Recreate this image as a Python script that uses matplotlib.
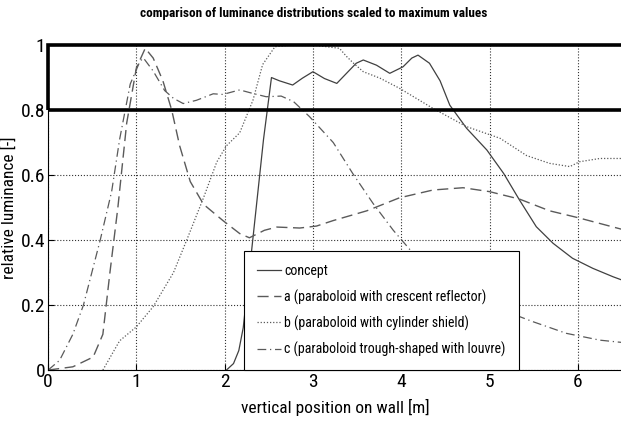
import matplotlib
matplotlib.use("Agg")
import matplotlib.pyplot as plt
from matplotlib.patches import Rectangle

# condensed sans, close to the Arial Narrow look of the reference
plt.rcParams['font.family'] = ['Roboto Condensed', 'Liberation Sans', 'DejaVu Sans']

# --- data ---
concept_x = [2.02, 2.10, 2.16, 2.21, 2.31, 2.44, 2.53, 2.62, 2.77, 2.88, 3.00, 3.13, 3.27,
             3.38, 3.49, 3.57, 3.72, 3.87, 4.02, 4.12, 4.19, 4.32, 4.44, 4.55, 4.74, 4.97,
             5.16, 5.34, 5.53, 5.72, 5.94, 6.17, 6.40, 6.50]
concept_y = [0.0, 0.02, 0.06, 0.13, 0.38, 0.71, 0.90, 0.89, 0.877, 0.898, 0.918, 0.897, 0.882,
             0.913, 0.944, 0.954, 0.938, 0.913, 0.933, 0.96, 0.969, 0.944, 0.89, 0.815, 0.744,
             0.677, 0.605, 0.523, 0.441, 0.39, 0.344, 0.313, 0.287, 0.277]

a_x = [0.0, 0.28, 0.51, 0.62, 0.70, 0.79, 0.89, 1.00, 1.10, 1.19, 1.30, 1.40, 1.49, 1.61,
       1.76, 1.98, 2.17, 2.28, 2.45, 2.59, 2.85, 3.04, 3.23, 3.61, 3.98, 4.36, 4.70, 5.00,
       5.34, 5.68, 6.00, 6.50]
a_y = [0.0, 0.01, 0.04, 0.11, 0.30, 0.50, 0.76, 0.93, 0.99, 0.96, 0.89, 0.80, 0.69, 0.58,
       0.51, 0.46, 0.42, 0.407, 0.43, 0.44, 0.437, 0.443, 0.46, 0.49, 0.53, 0.554, 0.561,
       0.549, 0.526, 0.49, 0.469, 0.433]

b_x = [0.62, 0.81, 1.00, 1.19, 1.42, 1.57, 1.76, 1.91, 2.02, 2.17, 2.32, 2.43, 2.57, 2.75,
       3.00, 3.15, 3.30, 3.38, 3.46, 3.57, 3.76, 3.98, 4.17, 4.36, 4.74, 5.12, 5.42, 5.68,
       5.91, 6.02, 6.25, 6.50]
b_y = [0.0, 0.09, 0.133, 0.195, 0.30, 0.40, 0.53, 0.64, 0.69, 0.73, 0.83, 0.94, 0.995, 1.0,
       1.0, 0.995, 0.99, 0.965, 0.944, 0.918, 0.898, 0.867, 0.836, 0.805, 0.749, 0.713, 0.66,
       0.636, 0.626, 0.641, 0.651, 0.651]

c_x = [0.0, 0.13, 0.28, 0.40, 0.59, 0.72, 0.81, 0.93, 1.04, 1.08, 1.19, 1.32, 1.42, 1.53,
       1.68, 1.87, 1.98, 2.17, 2.32, 2.47, 2.64, 2.78, 2.96, 3.23, 3.45, 3.68, 3.91, 4.10,
       4.50, 4.80, 5.19, 5.49, 5.87, 6.25, 6.50]
c_y = [0.0, 0.03, 0.11, 0.20, 0.40, 0.55, 0.71, 0.88, 0.95, 0.96, 0.92, 0.86, 0.836, 0.82,
       0.83, 0.85, 0.848, 0.862, 0.851, 0.841, 0.843, 0.826, 0.78, 0.70, 0.605, 0.513, 0.43,
       0.37, 0.28, 0.23, 0.18, 0.149, 0.113, 0.092, 0.085]

labels = ['concept',
          'a (paraboloid with crescent reflector)',
          'b (paraboloid with cylinder shield)',
          'c (paraboloid trough-shaped with louvre)']
x_ticks = [0, 1, 2, 3, 4, 5, 6]
y_ticks = [0, 0.2, 0.4, 0.6, 0.8, 1]
y_tick_labels = ['0', '0.2', '0.4', '0.6', '0.8', '1']

fig = plt.figure(figsize=(6.21, 4.21), dpi=100)
ax = fig.add_axes([0.0775, 0.121, 0.924, 0.772])

ax.plot(concept_x, concept_y, color='#404040', lw=0.9, ls='-', label=labels[0])
ax.plot(a_x, a_y, color='#5a5a5a', lw=1.0, ls=(0, (8, 4)), label=labels[1])
ax.plot(b_x, b_y, color='#5a5a5a', lw=0.9, ls=(0, (1, 1.5)), label=labels[2])
ax.plot(c_x, c_y, color='#5a5a5a', lw=0.9, ls=(0, (7, 3, 1, 3)), label=labels[3])

# band between 0.8 and 1
ax.add_patch(Rectangle((0, 0.8), 6.6, 0.2, fill=False, lw=2.6, edgecolor='black',
                       clip_on=False, zorder=5))

ax.set_xlim(0, 6.5)
ax.set_ylim(0, 1)
ax.set_xticks(x_ticks)
ax.set_yticks(y_ticks)
ax.set_yticklabels(y_tick_labels)
ax.tick_params(direction='in', labelsize=14, length=4, pad=2)
ax.grid(True, ls=':', color='#333333', lw=0.8)
ax.spines['top'].set_visible(False)
ax.spines['right'].set_visible(False)

# title sits centred on the figure, not on the axes
fig.text(0.505, 1 - 13 / 421, 'comparison of luminance distributions scaled to maximum values',
         fontsize=9.5, fontweight='bold', ha='center', va='center')
ax.set_xlabel('vertical position on wall [m]', fontsize=12.5, labelpad=6)
ax.set_ylabel('relative luminance [-]', fontsize=12.5, labelpad=3)

leg = ax.legend(loc='lower left', bbox_to_anchor=(2.22 / 6.5, 0.0), fontsize=10,
                fancybox=False, framealpha=1, edgecolor='black', handlelength=1.7,
                borderpad=0.95, labelspacing=0.78, handletextpad=0.25, borderaxespad=0)
leg.get_frame().set_linewidth(0.8)

fig.savefig('out.png', dpi=100)
